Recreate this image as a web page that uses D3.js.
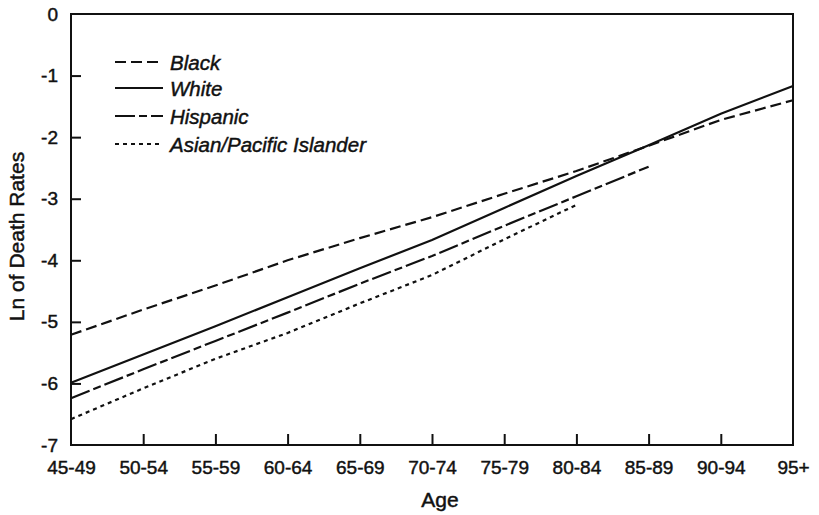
<!DOCTYPE html>
<html>
<head>
<meta charset="utf-8">
<script src="https://cdn.jsdelivr.net/npm/d3@7"></script>
<style>
  body { margin: 0; background: #fff; }
  svg { display: block; }
  text { font-family: "Liberation Sans", Arial, Helvetica, sans-serif; fill: #111; stroke: #111; stroke-width: 0.45px; }
</style>
</head>
<body>
<svg id="chart" width="819" height="515"></svg>
<script>
// ---- Data ----
const ageGroups = ["45-49","50-54","55-59","60-64","65-69","70-74","75-79","80-84","85-89","90-94","95+"];
const blackValues    = [-5.21, -4.80, -4.41, -4.00, -3.64, -3.30, -2.92, -2.55, -2.14, -1.72, -1.40];
const whiteValues    = [-5.99, -5.53, -5.07, -4.60, -4.13, -3.67, -3.15, -2.63, -2.13, -1.62, -1.17];
const hispanicValues = [-6.24, -5.77, -5.31, -4.85, -4.38, -3.93, -3.44, -2.96, -2.48];
const asianValues    = [-6.58, -6.08, -5.60, -5.18, -4.70, -4.24, -3.66, -3.10];
const yTicks = [0, -1, -2, -3, -4, -5, -6, -7];
const seriesNames = ["Black", "White", "Hispanic", "Asian/Pacific Islander"];

// ---- Layout ----
const svg = d3.select("#chart");
const mLeft = 71, mRight = 793, mTop = 14, mBottom = 445;

const x = d3.scalePoint().domain(ageGroups).range([mLeft, mRight]);
const y = d3.scaleLinear().domain([-7, 0]).range([mBottom, mTop]);

const styles = [
  { name: seriesNames[0], values: blackValues,    dash: "11,5" },
  { name: seriesNames[1], values: whiteValues,    dash: null },
  { name: seriesNames[2], values: hispanicValues, dash: "20,4,8,4" },
  { name: seriesNames[3], values: asianValues,    dash: "4,4" }
];

// Frame
svg.append("rect")
  .attr("x", mLeft).attr("y", mTop)
  .attr("width", mRight - mLeft).attr("height", mBottom - mTop)
  .attr("fill", "none").attr("stroke", "#111").attr("stroke-width", 2);

// X axis (ticks pointing inward)
const xAxis = d3.axisBottom(x).tickSize(-11).tickPadding(16);
const gx = svg.append("g").attr("transform", `translate(0,${mBottom})`).call(xAxis);
gx.select(".domain").remove();
gx.selectAll(".tick line").attr("stroke", "#111").attr("stroke-width", 2);
gx.selectAll(".tick").filter(d => d === ageGroups[0] || d === ageGroups[ageGroups.length-1]).select("line").remove();
gx.selectAll("text").attr("font-size", 19).attr("fill", "#111")
  .attr("font-family", "'Liberation Sans', Arial, sans-serif");

// Y axis (ticks pointing inward)
const yAxis = d3.axisLeft(y).tickValues(yTicks).tickSize(-10).tickPadding(13).tickFormat(d3.format("d"));
const gy = svg.append("g").attr("transform", `translate(${mLeft},0)`).call(yAxis);
gy.select(".domain").remove();
gy.selectAll(".tick line").attr("stroke", "#111").attr("stroke-width", 2);
gy.selectAll(".tick").filter(d => d === 0 || d === -7).select("line").remove();
gy.selectAll("text").attr("font-size", 19).attr("fill", "#111")
  .attr("font-family", "'Liberation Sans', Arial, sans-serif")
  .text(d => d < 0 ? "-" + Math.abs(d) : String(d));

// Lines
const line = d3.line().x((d, i) => x(ageGroups[i])).y(d => y(d));
styles.forEach(s => {
  svg.append("path")
    .datum(s.values)
    .attr("d", line)
    .attr("fill", "none")
    .attr("stroke", "#111")
    .attr("stroke-width", 2.2)
    .attr("stroke-dasharray", s.dash);
});

// Legend
const legendY = [62, 88, 116, 144];
styles.forEach((s, i) => {
  svg.append("line")
    .attr("x1", 115).attr("x2", 163)
    .attr("y1", legendY[i]).attr("y2", legendY[i])
    .attr("stroke", "#111").attr("stroke-width", 2.2)
    .attr("stroke-dasharray", s.dash);
  svg.append("text")
    .attr("x", 170).attr("y", legendY[i] + 8)
    .attr("font-size", 20.5).attr("font-style", "italic")
    .text(s.name);
});

// Axis titles
svg.append("text")
  .attr("x", (mLeft + mRight) / 2 + 8).attr("y", 507)
  .attr("text-anchor", "middle").attr("font-size", 21)
  .text("Age");

svg.append("text")
  .attr("transform", `translate(24,${(mTop + mBottom) / 2 + 7}) rotate(-90)`)
  .attr("text-anchor", "middle").attr("font-size", 21)
  .text("Ln of Death Rates");
</script>
</body>
</html>
